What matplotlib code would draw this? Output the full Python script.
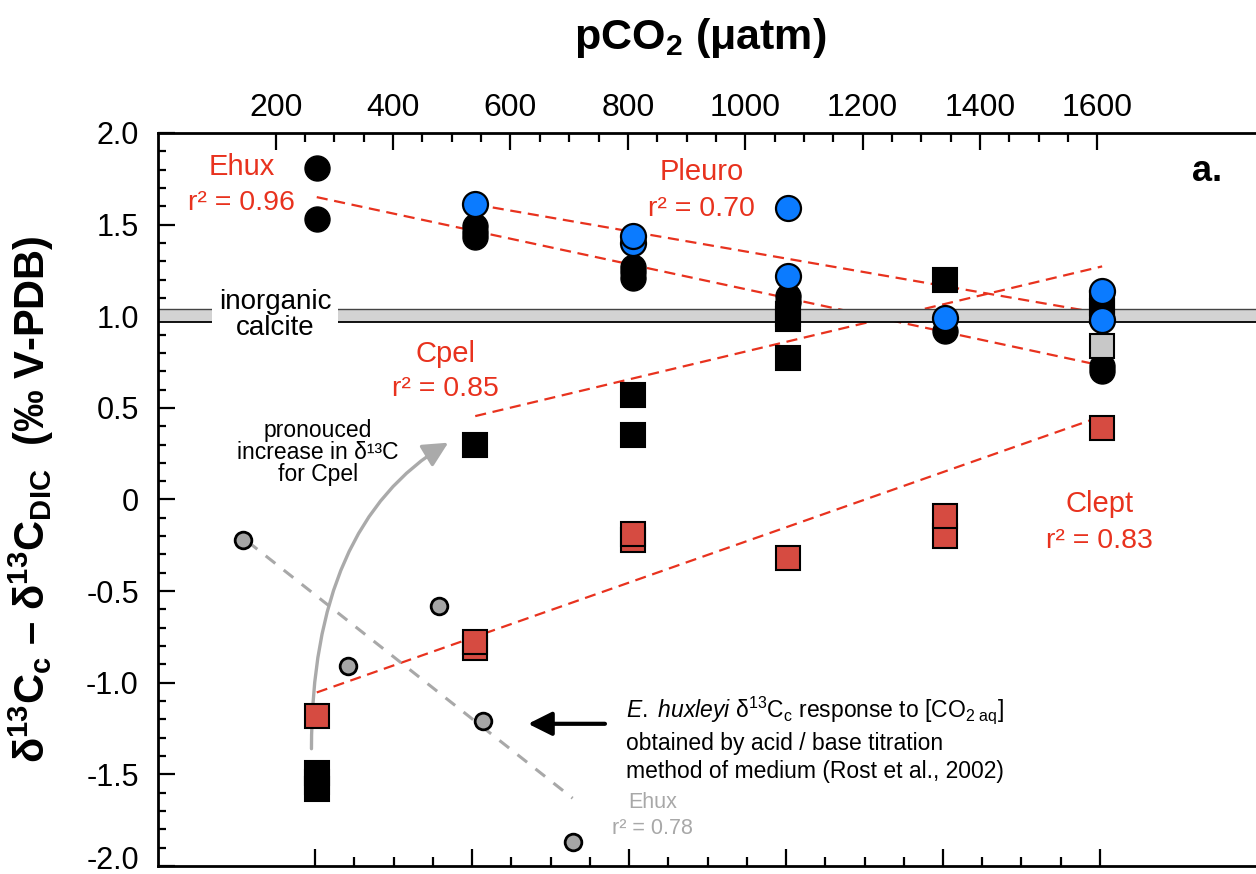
import numpy as np
import matplotlib
matplotlib.use("Agg")
import matplotlib.pyplot as plt
import matplotlib.transforms as mtransforms

plt.rcParams['font.family'] = ['Liberation Sans', 'DejaVu Sans']
plt.rcParams['mathtext.fontset'] = 'custom'
plt.rcParams['mathtext.rm'] = 'Liberation Sans'
plt.rcParams['mathtext.it'] = 'Liberation Sans:italic'
plt.rcParams['mathtext.bf'] = 'Liberation Sans:bold'

# data (pCO2 in uatm, d13C_c - d13C_DIC in permil)
ehux_x = [270, 270, 540, 540, 540, 808, 808, 808, 1072, 1072, 1340, 1608, 1608]
ehux_y = [1.81, 1.53, 1.49, 1.46, 1.43, 1.27, 1.24, 1.21, 1.11, 1.08, 0.92, 0.73, 0.70]

pleuro_x = [540, 808, 808, 1072, 1072, 1340, 1608, 1608]
pleuro_y = [1.61, 1.40, 1.44, 1.59, 1.22, 0.99, 1.14, 0.98]

cpel_x = [270, 270, 270, 540, 808, 808, 1072, 1072, 1072, 1340, 1608, 1608]
cpel_y = [-1.49, -1.54, -1.58, 0.30, 0.57, 0.35, 1.01, 0.985, 0.77, 1.20, 1.07, 1.03]

clept_x = [270, 540, 540, 808, 808, 1072, 1340, 1340, 1608]
clept_y = [-1.18, -0.81, -0.78, -0.22, -0.19, -0.32, -0.20, -0.09, 0.39]

other_x = [1608]
other_y = [0.84]

# Rost et al. 2002, vs [CO2 aq] (umol/kg), bottom axis
rost_co2 = [5.4, 12.1, 17.9, 20.7, 26.4]
rost_y = [-0.22, -0.91, -0.58, -1.21, -1.87]

# regression lines (end points)
fit_ehux_x, fit_ehux_y = [270, 1608], [1.65, 0.73]
fit_pleuro_x, fit_pleuro_y = [540, 1608], [1.61, 1.015]
fit_cpel_x, fit_cpel_y = [540, 1608], [0.455, 1.272]
fit_clept_x, fit_clept_y = [270, 1608], [-1.053, 0.455]
fit_rost_x, fit_rost_y = [5.7, 26.4], [-0.23, -1.63]

calcite_lo, calcite_hi = 0.97, 1.04

co2_per_pco2 = 0.0374
xmax = 1900

red = '#e8321e'
red_fill = '#d64b41'
blue = '#0b7bff'
grey = '#a8a8a8'

fig = plt.figure(figsize=(12.56, 8.74), dpi=100)
ax = fig.add_axes([0.126, 0.00915, xmax * 0.587 / 1256, 0.8387])
ax.set_xlim(0, xmax)
ax.set_ylim(-2, 2)

# bottom axis: [CO2 aq]  (twiny resets the main axis ticks, so do it first)
ax2 = ax.twiny()
ax2.set_xlim(0, xmax * co2_per_pco2)
ax2.xaxis.tick_bottom()
ax2.set_xticks(np.arange(10, 61, 10))
ax2.set_xticks(np.arange(10, 60.1, 2.5), minor=True)
ax2.tick_params(axis='x', which='both', direction='in', top=False, bottom=True,
                labelbottom=False, labeltop=False)
ax2.tick_params(axis='x', which='major', length=12, width=1.6)
ax2.tick_params(axis='x', which='minor', length=6.5, width=1.6)
for s in ax2.spines.values():
    s.set_visible(False)

# regression lines
dash = (0, (5, 3))
for fx, fy in [(fit_ehux_x, fit_ehux_y), (fit_pleuro_x, fit_pleuro_y),
               (fit_cpel_x, fit_cpel_y), (fit_clept_x, fit_clept_y)]:
    ax.plot(fx, fy, color=red, lw=1.6, ls=dash, zorder=1)

# inorganic calcite band
ax.fill_between([0, xmax], calcite_lo, calcite_hi, color='#d3d3d3', lw=0, zorder=2)
ax.axhline(calcite_hi, color='#444444', lw=1.0, zorder=2)
ax.axhline(calcite_lo, color='black', lw=1.3, zorder=2)
ax.text(199, 1.007, "inorganic\ncalcite", fontsize=20, ha='center', va='center',
        linespacing=1.0, zorder=3,
        bbox=dict(boxstyle='square,pad=0.25', fc='white', ec='none'))

# curved grey arrow
ax.annotate("", xy=(494, 0.31), xytext=(261, -1.36),
            arrowprops=dict(arrowstyle='-|>', color='#aaaaaa', lw=2.4, mutation_scale=38,
                            shrinkA=0, shrinkB=0,
                            connectionstyle='angle3,angleA=90,angleB=31'), zorder=1.5)

# markers
ax.plot(cpel_x, cpel_y, 's', ms=17, mfc='black', mec='black', mew=1.5, zorder=4)
ax.plot(ehux_x, ehux_y, 'o', ms=18, mfc='black', mec='black', mew=1, zorder=5)
ax.plot(clept_x, clept_y, 's', ms=17.5, mfc=red_fill, mec='black', mew=1.5, zorder=5)
ax.plot(other_x, other_y, 's', ms=17.5, mfc='#c8c8c8', mec='black', mew=1.5, zorder=6)
ax.plot(pleuro_x, pleuro_y, 'o', ms=18, mfc=blue, mec='black', mew=1.6, zorder=7)

# axes styling
for s in ['top', 'left', 'bottom']:
    ax.spines[s].set_linewidth(2)
ax.spines['right'].set_visible(False)

ax.xaxis.tick_top()
ax.set_xticks(np.arange(200, 1601, 200))
ax.set_xticks(np.arange(200, 1601, 50), minor=True)
ax.tick_params(axis='x', which='both', direction='in', top=True, bottom=False,
               labeltop=True, labelbottom=False, labelsize=23, pad=7)
ax.tick_params(axis='x', which='major', length=12, width=1.6)
ax.tick_params(axis='x', which='minor', length=6.5, width=1.6)

ytick_vals = np.arange(-2.0, 2.01, 0.5)
ytick_labels = ["-2.0", "-1.5", "-1.0", "-0.5", "0", "0.5", "1.0", "1.5", "2.0"]
ax.set_yticks(ytick_vals)
ax.set_yticklabels(ytick_labels)
ax.set_yticks(np.arange(-2.0, 2.01, 0.1), minor=True)
ax.tick_params(axis='y', which='both', direction='in', right=False, labelsize=22, pad=14)
ax.tick_params(axis='y', which='major', length=12, width=1.6)
ax.tick_params(axis='y', which='minor', length=6, width=1.6)
# lowest label sits a little higher so it is not cut by the figure edge
low = ax.get_yticklabels()[0]
low.set_transform(low.get_transform() +
                  mtransforms.ScaledTranslation(0, 6 / 72, fig.dpi_scale_trans))

ax2.plot(fit_rost_x, fit_rost_y, color=grey, lw=2.2, ls=(0, (4, 3.5)), zorder=1)
ax2.plot(rost_co2, rost_y, 'o', ms=12, mfc='#a6a6a6', mec='black', mew=2, zorder=3)

# black arrow to Rost data
ax.annotate("", xy=(630, -1.224), xytext=(761, -1.224),
            arrowprops=dict(arrowstyle='-|>', color='black', lw=3, mutation_scale=36,
                            shrinkA=0, shrinkB=0), zorder=8)

# labels
ax.text(142, 1.815, "Ehux", color=red, fontsize=21, ha='center', va='center')
ax.text(142, 1.62, "r² = 0.96", color=red, fontsize=20.5, ha='center', va='center')
ax.text(926, 1.787, "Pleuro", color=red, fontsize=21, ha='center', va='center')
ax.text(926, 1.587, "r² = 0.70", color=red, fontsize=20.5, ha='center', va='center')
ax.text(490, 0.795, "Cpel", color=red, fontsize=21, ha='center', va='center')
ax.text(490, 0.604, "r² = 0.85", color=red, fontsize=20.5, ha='center', va='center')
ax.text(1604, -0.023, "Clept", color=red, fontsize=21, ha='center', va='center')
ax.text(1604, -0.224, "r² = 0.83", color=red, fontsize=20.5, ha='center', va='center')
ax.text(1787, 1.79, "a.", fontsize=26, fontweight='bold', ha='center', va='center')

ax.text(272, 0.255, "pronouced\nincrease in δ¹³C\nfor Cpel", fontsize=16.5,
        ha='center', va='center', linespacing=0.95)

ax.text(796, -1.065,
        r"$\mathit{E.\ huxleyi}$ δ$^{13}$C$_{\mathrm{c}}$ response to [CO$_{\mathrm{2\ aq}}$]"
        "\nobtained by acid / base titration\nmethod of medium (Rost et al., 2002)",
        fontsize=16.5, ha='left', va='top', linespacing=1.3)

ax.text(842, -1.725, "Ehux\nr² = 0.78", color=grey, fontsize=15.5,
        ha='center', va='center', linespacing=1.35)

ax.set_ylabel(r"δ$^{\mathbf{13}}$C$_{\mathbf{c}}$ – δ$^{\mathbf{13}}$C$_{\mathbf{DIC}}$  (‰ V-PDB)",
              fontsize=30, fontweight='bold', labelpad=22)
fig.text(700 / 1256, 1 - 38 / 874, r"pCO$_{\mathbf{2}}$ (μatm)", fontsize=31,
         fontweight='bold', ha='center', va='center')

fig.savefig("out.png", dpi=100)
